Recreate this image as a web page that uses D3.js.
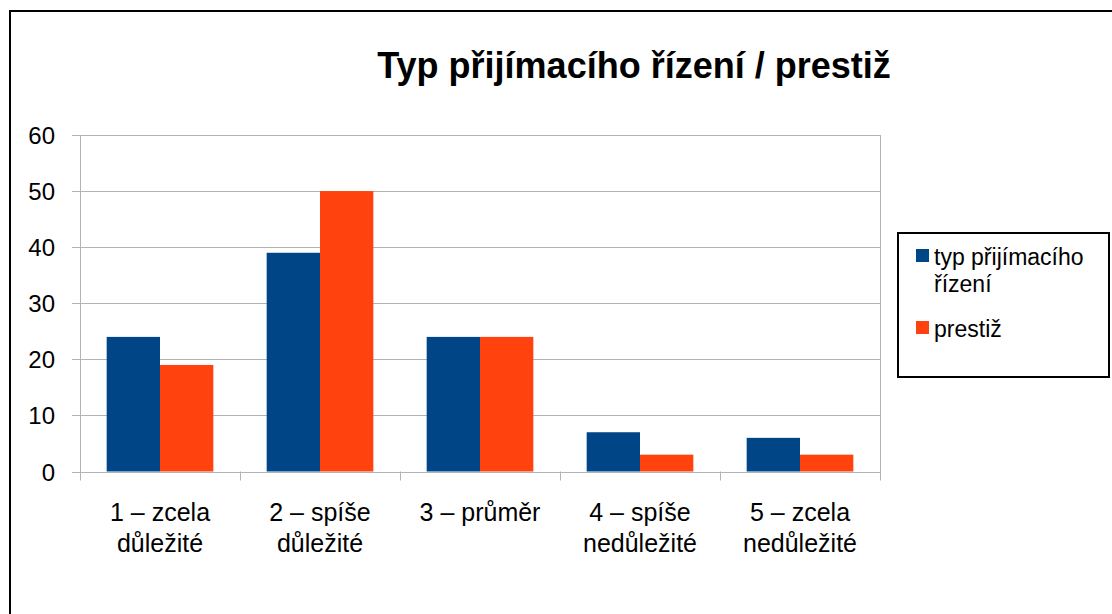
<!DOCTYPE html>
<html>
<head>
<meta charset="utf-8">
<script src="https://cdn.jsdelivr.net/npm/d3@7"></script>
<style>
  body { margin: 0; background: #fff; }
  svg { display: block; font-family: "Liberation Sans", Arial, sans-serif; }
</style>
</head>
<body>
<div id="chart"></div>
<script>
const categories = [
    ["1 – zcela", "důležité"],
    ["2 – spíše", "důležité"],
    ["3 – průměr"],
    ["4 – spíše", "nedůležité"],
    ["5 – zcela", "nedůležité"]
];
const seriesNames = [["typ přijímacího", "řízení"], ["prestiž"]];
const typValues = [24, 39, 24, 7, 6];
const prestizValues = [19, 50, 24, 3, 3];
const yTicks = [0, 10, 20, 30, 40, 50, 60];
const colors = ["#004586", "#ff420e"];

const width = 1112;
const height = 614;
const plot = { left: 80, right: 880, top: 135, bottom: 471.5 };

const svg = d3.select("#chart").append("svg")
    .attr("width", width)
    .attr("height", height);

// outer frame (right and bottom edges fall outside the picture)
svg.append("rect")
    .attr("x", 10).attr("y", 11)
    .attr("width", 1120).attr("height", 620)
    .attr("fill", "#fff")
    .attr("stroke", "#000")
    .attr("stroke-width", 2);

const data = categories.map((c, i) => ({ idx: i, label: c, values: [typValues[i], prestizValues[i]] }));

const x0 = d3.scaleBand()
    .domain(d3.range(categories.length))
    .range([plot.left, plot.right]);

const x1 = d3.scaleBand()
    .domain([0, 1])
    .range([0, x0.bandwidth()])
    .paddingOuter(0.5);

const y = d3.scaleLinear()
    .domain([0, 60])
    .range([plot.bottom, plot.top]);

// gridlines
svg.append("g")
    .selectAll("line")
    .data(yTicks)
    .enter()
    .append("line")
    .attr("x1", plot.left - 8)
    .attr("x2", plot.right)
    .attr("y1", d => Math.round(y(d)) + 0.5)
    .attr("y2", d => Math.round(y(d)) + 0.5)
    .attr("stroke", "#b3b3b3")
    .attr("stroke-width", 1);

// category separators / ticks
svg.append("g")
    .selectAll("line")
    .data(d3.range(categories.length + 1))
    .enter()
    .append("line")
    .attr("x1", d => (d < categories.length ? x0(d) : plot.right) + 0.5)
    .attr("x2", d => (d < categories.length ? x0(d) : plot.right) + 0.5)
    .attr("y1", d => (d === 0 || d === categories.length) ? plot.top : plot.bottom)
    .attr("y2", plot.bottom + 9)
    .attr("stroke", "#b3b3b3")
    .attr("stroke-width", 1);

// bars
const groups = svg.append("g")
    .selectAll("g")
    .data(data)
    .enter()
    .append("g")
    .attr("transform", d => `translate(${x0(d.idx)},0)`);

groups.selectAll("rect")
    .data(d => d.values.map((v, s) => ({ v, s })))
    .enter()
    .append("rect")
    .attr("x", d => x1(d.s))
    .attr("y", d => y(d.v))
    .attr("width", x1.bandwidth())
    .attr("height", d => y(0) - y(d.v))
    .attr("fill", d => colors[d.s]);

// y labels
svg.append("g")
    .selectAll("text")
    .data(yTicks)
    .enter()
    .append("text")
    .attr("x", 55)
    .attr("y", d => y(d) + 9)
    .attr("text-anchor", "end")
    .style("font-size", "24px")
    .text(d => d);

// category labels
const catLabels = svg.append("g")
    .selectAll("text")
    .data(data)
    .enter()
    .append("text")
    .attr("text-anchor", "middle")
    .style("font-size", "25px");

catLabels.selectAll("tspan")
    .data(d => d.label.map(l => ({ l, cx: x0(d.idx) + x0.bandwidth() / 2 })))
    .enter()
    .append("tspan")
    .attr("x", d => d.cx)
    .attr("y", (d, i) => 521 + i * 31)
    .text(d => d.l);

// title
svg.append("text")
    .attr("x", 634)
    .attr("y", 78)
    .attr("text-anchor", "middle")
    .style("font-size", "36px")
    .style("font-weight", "bold")
    .text("Typ přijímacího řízení / prestiž");

// legend
const legend = svg.append("g");
legend.append("rect")
    .attr("x", 898).attr("y", 233)
    .attr("width", 211).attr("height", 144)
    .attr("fill", "#fff")
    .attr("stroke", "#000")
    .attr("stroke-width", 2);

const legendTop = [249, 321];
seriesNames.forEach((name, i) => {
    legend.append("rect")
        .attr("x", 916).attr("y", legendTop[i])
        .attr("width", 13).attr("height", 13)
        .attr("fill", colors[i]);
    const t = legend.append("text").style("font-size", "23px");
    name.forEach((line, j) => {
        t.append("tspan")
            .attr("x", 934)
            .attr("y", legendTop[i] + 16 + j * 27)
            .text(line);
    });
});
</script>
</body>
</html>
